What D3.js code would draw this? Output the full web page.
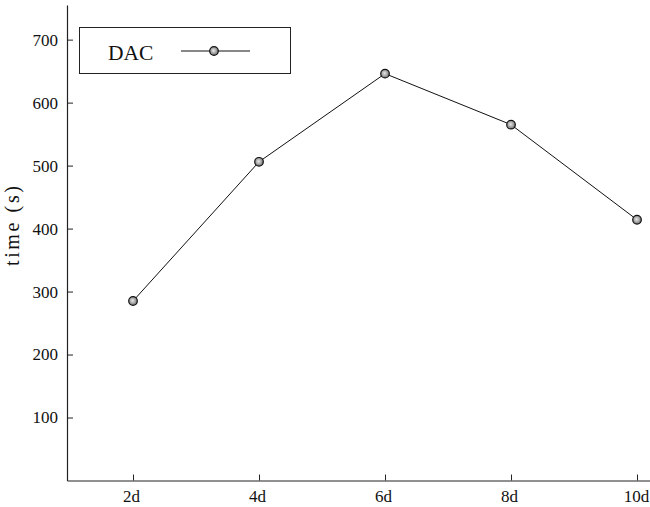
<!DOCTYPE html>
<html><head><meta charset="utf-8">
<script src="https://cdn.jsdelivr.net/npm/d3@7"></script>
<style>body{margin:0;background:#fff}svg{display:block}
svg text{font-family:"Liberation Serif","Times New Roman",serif !important;}</style>
</head><body>
<script>
const categories = [2, 4, 6, 8, 10];
const tickLabels = ["2d", "4d", "6d", "8d", "10d"];
const dacValues = [285, 506, 646, 565, 414];
const yTicks = [100, 200, 300, 400, 500, 600, 700];
const seriesName = "DAC";

const W = 650, H = 507;
const svg = d3.select("body").append("svg").attr("width", W).attr("height", H);
const defs = svg.append("defs");
const grad = defs.append("radialGradient").attr("id", "mk").attr("cx", "45%").attr("cy", "45%").attr("r", "60%");
grad.append("stop").attr("offset", "0%").attr("stop-color", "#e8e8e8");
grad.append("stop").attr("offset", "100%").attr("stop-color", "#6a6a6a");

const x = d3.scaleLinear().domain([0.952, 10.206]).range([67, 650]);
const y = d3.scaleLinear().domain([0, 755]).range([480.5, 5]);

const xAxis = svg.append("g").attr("transform", `translate(0,${y(0)})`)
  .call(d3.axisBottom(x).tickValues(categories).tickFormat((d,i)=>tickLabels[i]).tickSize(-6).tickSizeOuter(0).tickPadding(9));
const yAxis = svg.append("g").attr("transform", `translate(${x.range()[0]},0)`)
  .call(d3.axisLeft(y).tickValues(yTicks).tickSize(-6).tickSizeOuter(0).tickPadding(9));
[xAxis, yAxis].forEach(g => {
  g.select(".domain").attr("stroke", "#222").attr("stroke-width", 1.2);
  g.selectAll(".tick line").attr("stroke", "#222").attr("stroke-width", 1);
  g.selectAll(".tick text").style("font-size", "17px").attr("fill", "#111");
});
xAxis.selectAll(".tick text").attr("dx", (d,i)=> i < 4 ? -2 : -1);

svg.append("text").attr("transform", `translate(19,226) rotate(-90)`)
  .attr("text-anchor", "middle").style("font-size", "20px").attr("fill", "#111")
  .attr("textLength", 80).attr("lengthAdjust", "spacing").text("time (s)");

const pts = categories.map((c,i)=>[c, dacValues[i]]);
svg.append("path").datum(pts).attr("fill","none").attr("stroke","#111").attr("stroke-width",1)
  .attr("d", d3.line().x(d=>x(d[0])).y(d=>y(d[1])));
svg.selectAll("circle.pt").data(pts).join("circle").attr("class","pt")
  .attr("cx", d=>x(d[0])).attr("cy", d=>y(d[1])).attr("r", 4.3)
  .attr("fill", "url(#mk)").attr("stroke", "#111").attr("stroke-width", 1.2);

// legend
const lg = svg.append("g");
lg.append("rect").attr("x", 79.5).attr("y", 27.5).attr("width", 211).attr("height", 46)
  .attr("fill", "#fff").attr("stroke", "#222").attr("stroke-width", 1);
lg.append("text").attr("x", 108).attr("y", 59.5).style("font-size", "21.5px").attr("fill", "#111").text(seriesName);
lg.append("line").attr("x1", 181).attr("x2", 250).attr("y1", 51).attr("y2", 51).attr("stroke", "#111").attr("stroke-width", 1);
lg.append("circle").attr("cx", 214).attr("cy", 51).attr("r", 4.3).attr("fill", "url(#mk)").attr("stroke", "#111").attr("stroke-width", 1.2);
</script>
</body></html>
